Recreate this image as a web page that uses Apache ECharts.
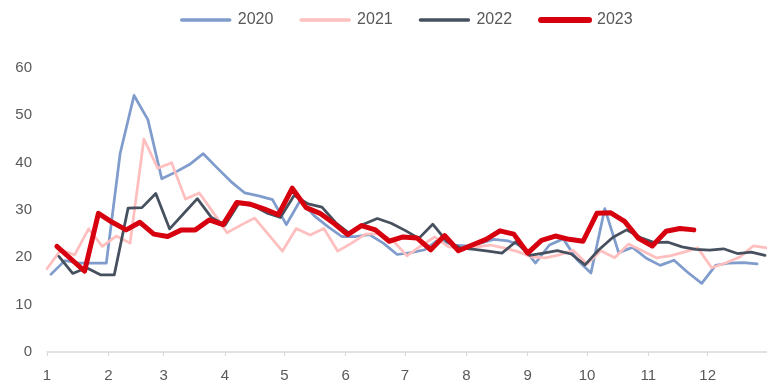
<!DOCTYPE html>
<html>
<head>
<meta charset="utf-8">
<script src="https://cdn.jsdelivr.net/npm/echarts@6/dist/echarts.min.js"></script>
<style>html,body{margin:0;padding:0;background:#fff;}#c{width:767px;height:383px;}</style>
</head>
<body>
<div id="c"></div>
<script>
// Weekly series; each starts at the first reporting date of its year
var seriesNames = ['2020', '2021', '2022', '2023'];
var firstDates = ['2020-01-03', '2021-01-01', '2022-01-07', '2023-01-06'];
var v2020 = [16.4, 19.3, 18.8, 18.8, 18.8, 42.0, 54.2, 49.1, 36.6, 38.0, 39.6, 41.9, 38.9, 36.0, 33.6, 33.0, 32.2, 26.9, 32.0, 28.8, 26.5, 24.4, 24.4, 24.8, 23.0, 20.6, 21.0, 21.6, 23.8, 22.6, 22.4, 23.0, 23.8, 23.5, 22.4, 18.8, 22.6, 23.9, 19.5, 16.7, 30.3, 21.0, 22.1, 19.8, 18.3, 19.4, 16.8, 14.5, 18.3, 18.8, 18.9, 18.6];
var v2021 = [17.6, 21.6, 20.5, 26.0, 22.3, 24.5, 23.0, 45.0, 38.8, 40.0, 32.3, 33.6, 29.5, 25.2, 26.8, 28.3, 24.8, 21.3, 26.1, 24.7, 26.1, 21.3, 23.0, 24.9, 25.0, 23.5, 20.3, 22.4, 24.3, 22.2, 22.0, 22.2, 22.6, 22.0, 21.2, 20.1, 19.9, 20.5, 21.5, 18.6, 21.4, 19.9, 22.8, 21.4, 19.9, 20.3, 21.1, 22.0, 17.8, 18.8, 20.0, 22.4, 22.0];
var v2022 = [20.2, 16.6, 17.8, 16.3, 16.3, 30.4, 30.5, 33.5, 26.0, 29.2, 32.4, 28.5, 26.8, 31.4, 31.0, 29.4, 28.4, 33.1, 31.3, 30.6, 27.3, 25.0, 27.0, 28.2, 27.2, 25.7, 24.0, 27.0, 23.4, 22.0, 21.7, 21.3, 20.9, 23.3, 20.4, 20.9, 21.4, 20.7, 18.4, 21.6, 24.2, 25.8, 24.2, 23.1, 23.2, 22.2, 21.7, 21.5, 21.8, 20.8, 21.1, 20.4];
var v2023 = [22.3, 19.7, 17.1, 29.3, 27.4, 25.8, 27.4, 24.9, 24.4, 25.8, 25.8, 27.9, 26.9, 31.6, 31.2, 30.2, 29.0, 34.6, 30.5, 29.3, 27.2, 24.8, 26.7, 25.8, 23.4, 24.3, 24.1, 21.6, 24.6, 21.4, 22.6, 23.8, 25.6, 24.9, 20.9, 23.6, 24.5, 23.8, 23.4, 29.3, 29.4, 27.6, 24.0, 22.4, 25.5, 26.1, 25.8];
var monthStarts = [0, 31, 59, 90, 120, 151, 181, 212, 243, 273, 304, 334];
var monthLabels = ['1', '2', '3', '4', '5', '6', '7', '8', '9', '10', '11', '12'];
var yTicks = [0, 10, 20, 30, 40, 50, 60];

var colors = ['#7f9ccc', '#ffbfbf', '#47505e', '#d7000f'];
var widths = [2.75, 2.75, 2.75, 5];
var legendWidths = [3.5, 3.5, 3.5, 6];
var allValues = [v2020, v2021, v2022, v2023];

function dayOfYear(s) {
  var d = new Date(s + 'T00:00:00Z');
  var y0 = Date.UTC(d.getUTCFullYear(), 0, 1);
  return Math.round((d.getTime() - y0) / 86400000);
}

var series = seriesNames.map(function (name, i) {
  var start = dayOfYear(firstDates[i]);
  var data = allValues[i].map(function (v, k) { return [start + 7 * k, v]; });
  return {
    name: name, type: 'line', data: data, symbol: 'none', smooth: false,
    lineStyle: { color: colors[i], width: widths[i], join: 'round', cap: 'round' },
    itemStyle: { color: colors[i] },
    z: 2 + i
  };
});

var legendData = seriesNames.map(function (name, i) {
  return { name: name, lineStyle: { width: legendWidths[i], color: colors[i], cap: 'round' } };
});

var chart = echarts.init(document.getElementById('c'), null, { renderer: 'canvas' });
chart.setOption({
  animation: false,
  textStyle: { fontFamily: 'Liberation Sans, Arial, sans-serif' },
  legend: {
    data: legendData, left: 180, top: 12, padding: 0, itemWidth: 48, itemHeight: 14, itemGap: 26,
    itemStyle: { opacity: 0 },
    textStyle: { fontSize: 16, color: '#595959', padding: [0, 0, 0, 3] }
  },
  grid: { left: 47, right: 0, top: 68, bottom: 27, containLabel: false },
  xAxis: {
    type: 'value', min: 0, max: 364,
    axisLine: { show: true, lineStyle: { color: '#d9d9d9', width: 1.5 } },
    axisTick: { show: true, customValues: monthStarts, length: 4, lineStyle: { color: '#d9d9d9' } },
    axisLabel: {
      customValues: monthStarts, color: '#595959', fontSize: 15, margin: 16,
      formatter: function (v) { var i = monthStarts.indexOf(v); return i >= 0 ? monthLabels[i] : ''; }
    },
    splitLine: { show: false }
  },
  yAxis: {
    type: 'value', min: yTicks[0], max: yTicks[yTicks.length - 1], interval: 10,
    axisLine: { show: false }, axisTick: { show: false }, splitLine: { show: false },
    axisLabel: { color: '#595959', fontSize: 15, margin: 15 }
  },
  series: series
});
</script>
</body>
</html>
